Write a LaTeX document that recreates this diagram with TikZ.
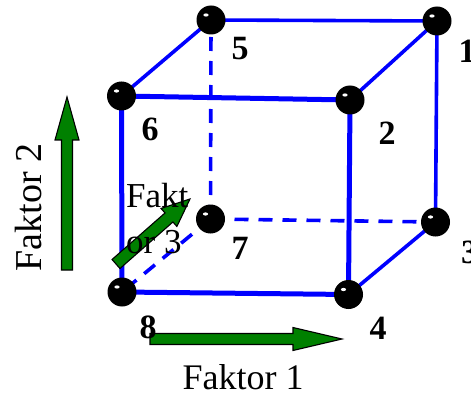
\documentclass[tikz,border=0pt]{standalone}
\usepackage{fontspec}
\setmainfont{Liberation Serif}
\pgfdeclarelayer{background}
\pgfsetlayers{background,main}
\definecolor{arrowgreen}{RGB}{0,128,0}
\begin{document}
\begin{tikzpicture}[x=1pt,y=-1pt,
  ball/.style={circle, fill=black, minimum size=29pt, inner sep=0pt,
    path picture={\fill[white] ([xshift=-5pt,yshift=5pt]path picture bounding box.center) ellipse (2.6pt and 1.6pt);}},
  edge/.style={blue, line width=3.6pt},
  frontedge/.style={blue, line width=5pt},
  hidden/.style={blue, line width=3.6pt, dash pattern=on 14pt off 10pt},
  num/.style={font=\fontsize{34}{40}\selectfont\bfseries, inner sep=0pt},
  lbl/.style={font=\fontsize{#1}{46}\selectfont, inner sep=0pt},
  fatarrow/.style={fill=arrowgreen, draw=black, line width=1.1pt, line join=miter},
  pics/bigarrow/.style n args={4}{code={
    \draw[fatarrow] (0,-#3) -- (#1-#2,-#3) -- (#1-#2,-#4) -- (#1,0)
      -- (#1-#2,#4) -- (#1-#2,#3) -- (0,#3) -- cycle;}}
]
\useasboundingbox (0,0) rectangle (471,393);

% factor arrows (drawn first, cube edges pass over them)
\pic[rotate=90] at (67,270) {bigarrow={173}{43}{5.5}{12}};
\pic at (150,339) {bigarrow={192}{49}{5.5}{11.5}};
\pic[rotate=41.3] at (116,264) {bigarrow={98.5}{28}{6}{12}};

% cube corners
\node[ball] (v5) at (211,20) {};
\node[ball] (v1) at (437,21) {};
\node[ball] (v6) at (121.5,96) {};
\node[ball] (v2) at (350,100) {};
\node[ball] (v7) at (210.5,219) {};
\node[ball] (v3) at (435.5,222) {};
\node[ball] (v8) at (122,292) {};
\node[ball] (v4) at (348.5,294.5) {};

\begin{pgfonlayer}{background}
  % hidden edges
  \draw[hidden] (v7.center) -- (v5.center);
  \draw[hidden] (v7.center) -- (v3.center);
  \draw[hidden] (v7.center) -- (v8.center);
  % back and side edges
  \draw[edge] (v5.center) -- (v1.center);
  \draw[edge] (v1.center) -- (v3.center);
  \draw[edge] (v6.center) -- (v5.center);
  \draw[edge] (v2.center) -- (v1.center);
  \draw[edge] (v4.center) -- (v3.center);
  % front face
  \draw[frontedge] (v6.center) -- (v2.center) -- (v4.center) -- (v8.center) -- cycle;
\end{pgfonlayer}

% corner numbers
\node[num] (n5) at (240,49) {5};
\node[num, anchor=west] (n1) at (458.5,51) {1};
\node[num] (n6) at (150,129) {6};
\node[num] (n2) at (387,133) {2};
\node[num] (n7) at (240,248) {7};
\node[num, anchor=west] (n3) at (461,252) {3};
\node[num] (n8) at (148,327) {8};
\node[num] (n4) at (378,328) {4};

% factor labels
\node[lbl=36, anchor=base] (f1) at (243,389) {Faktor 1};
\node[lbl=38, anchor=base, rotate=90] (f2) at (41,207.5) {Faktor 2};
\node[lbl=35, anchor=base west] (f3a) at (126,207) {Fakt};
\node[lbl=35, anchor=base west] (f3b) at (126,253) {or 3};
\end{tikzpicture}
\end{document}
